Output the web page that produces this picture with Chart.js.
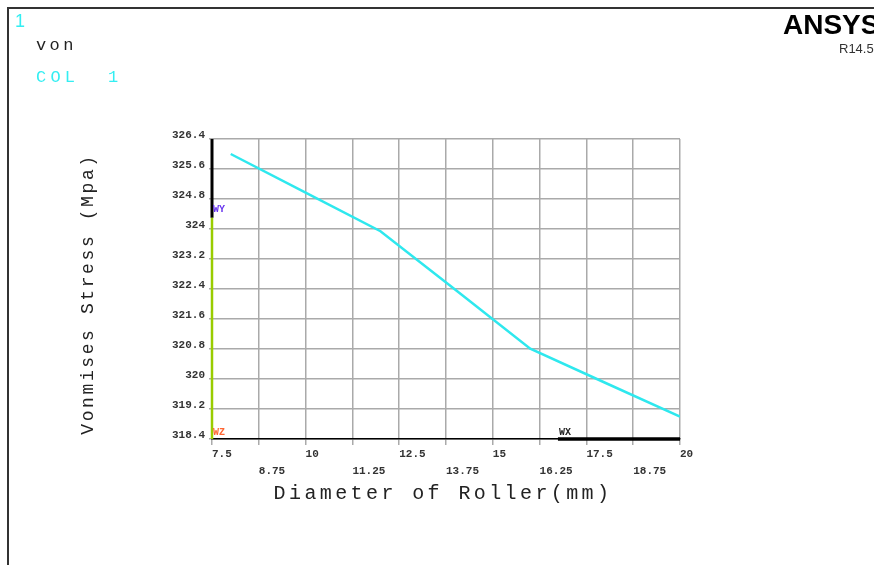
<!DOCTYPE html>
<html>
<head>
<meta charset="utf-8">
<script src="https://cdn.jsdelivr.net/npm/chart.js@4"></script>
<style>
  html, body { margin: 0; padding: 0; background: #fff; overflow: hidden; }
  #wrap { position: relative; width: 874px; height: 565px; }
</style>
</head>
<body>
<div id="wrap"><canvas id="stressChart" width="874" height="565"></canvas></div>
<script>
// roller diameter (mm) vs von Mises stress (MPa)
const diameters = [8, 10, 12, 14, 16, 18, 20];
const stress = [326.0, 324.97, 323.94, 322.38, 320.81, 319.9, 319.0];

const xMin = 7.5, xMax = 20, xStep = 1.25;
const yMin = 318.4, yMax = 326.4, yStep = 0.8;

const xTitle = 'Diameter of Roller(mm)';
const yTitle = 'Vonmises Stress (Mpa)';

const mono = '"Liberation Mono", "DejaVu Sans Mono", monospace';
const fmt = v => String(+v.toFixed(2));

// frame, header text, coloured axis segments and the axis titles
const decor = {
    id: 'decor',
    afterDraw(chart) {
        const ctx = chart.ctx;
        const xs = chart.scales.x;
        const ys = chart.scales.y;
        const area = chart.chartArea;

        ctx.save();

        // window frame
        ctx.strokeStyle = '#333';
        ctx.lineWidth = 2;
        ctx.beginPath();
        ctx.moveTo(8, 565);
        ctx.lineTo(8, 8);
        ctx.lineTo(874, 8);
        ctx.stroke();

        // header
        ctx.textBaseline = 'alphabetic';
        ctx.fillStyle = '#33eef2';
        ctx.font = '18px "Liberation Sans", sans-serif';
        ctx.fillText('1', 15, 27);

        ctx.font = '17px ' + mono;
        ctx.letterSpacing = '3.4px';
        ctx.fillStyle = '#222';
        ctx.fillText('von', 36, 50);
        ctx.letterSpacing = '4.2px';
        ctx.fillStyle = '#33eef2';
        ctx.fillText('COL  1', 36, 82);

        // product stamp, runs off the right edge
        ctx.letterSpacing = '0px';
        ctx.fillStyle = '#000';
        ctx.font = 'bold 28px "Liberation Sans", sans-serif';
        ctx.fillText('ANSYS', 783, 34);
        ctx.fillStyle = '#333';
        ctx.font = '13px "Liberation Sans", sans-serif';
        ctx.fillText('R14.5', 839, 53);

        // left axis: black above the WY mark, yellow-green below
        const yBreak = ys.getPixelForValue(324.3);
        ctx.lineWidth = 3;
        ctx.strokeStyle = '#000';
        ctx.beginPath();
        ctx.moveTo(area.left, area.top);
        ctx.lineTo(area.left, yBreak);
        ctx.stroke();
        ctx.lineWidth = 2.5;
        ctx.strokeStyle = '#99cc00';
        ctx.beginPath();
        ctx.moveTo(area.left, yBreak);
        ctx.lineTo(area.left, area.bottom);
        ctx.stroke();

        // heavy stretch of the bottom axis near WX
        const xBreak = xs.getPixelForValue(16.74);
        ctx.lineWidth = 3.5;
        ctx.strokeStyle = '#000';
        ctx.beginPath();
        ctx.moveTo(xBreak, area.bottom);
        ctx.lineTo(area.right, area.bottom);
        ctx.stroke();

        // axis markers
        ctx.font = 'bold 10px ' + mono;
        ctx.textBaseline = 'middle';
        ctx.fillStyle = '#6633ee';
        ctx.fillText('WY', area.left + 1, yBreak - 8);
        ctx.fillStyle = '#ff6633';
        ctx.fillText('WZ', area.left + 1, area.bottom - 7);
        ctx.fillStyle = '#222';
        ctx.fillText('WX', xBreak + 1, area.bottom - 7);

        // axis titles
        ctx.fillStyle = '#222';
        ctx.textAlign = 'center';
        ctx.textBaseline = 'middle';
        ctx.letterSpacing = '3.4px';
        ctx.font = '20px ' + mono;
        ctx.fillText(xTitle, (area.left + area.right) / 2 - 3, 494);

        ctx.translate(88, 294);
        ctx.rotate(-Math.PI / 2);
        ctx.letterSpacing = '2.6px';
        ctx.font = '18px ' + mono;
        ctx.fillText(yTitle, 0, 0);

        ctx.restore();
    }
};

const points = diameters.map((d, i) => ({ x: d, y: stress[i] }));

new Chart(document.getElementById('stressChart'), {
    type: 'line',
    data: {
        datasets: [{
            data: points,
            borderColor: '#2ee8ee',
            borderWidth: 2.5,
            pointRadius: 0,
            tension: 0,
        }],
    },
    options: {
        responsive: false,
        animation: false,
        layout: { padding: { top: 139, right: 194, left: 0, bottom: 0 } },
        plugins: {
            legend: { display: false },
            tooltip: { enabled: false },
        },
        scales: {
            x: {
                type: 'linear',
                min: xMin,
                max: xMax,
                afterFit: s => { s.height = 126; },
                border: { color: '#000', width: 1.5 },
                grid: { color: '#aaa', lineWidth: 1.5, tickLength: 6 },
                ticks: {
                    stepSize: xStep,
                    autoSkip: false,
                    maxRotation: 0,
                    align: 'start',
                    padding: 1,
                    color: '#333',
                    font: { family: mono, size: 11, weight: 'bold', lineHeight: 1.5 },
                    // alternate ticks drop to a second row
                    callback: (v, i) => (i % 2 === 0 ? [fmt(v)] : ['', fmt(v)]),
                },
            },
            y: {
                min: yMin,
                max: yMax,
                afterFit: s => { s.width = 212; },
                border: { display: false },
                grid: { color: '#aaa', lineWidth: 1.5, tickLength: 3 },
                ticks: {
                    stepSize: yStep,
                    padding: 4,
                    color: '#333',
                    font: { family: mono, size: 11, weight: 'bold', lineHeight: 0.7 },
                    // empty second line lifts the label above its tick
                    callback: v => [fmt(v), ''],
                },
            },
        },
    },
    plugins: [decor],
});
</script>
</body>
</html>
